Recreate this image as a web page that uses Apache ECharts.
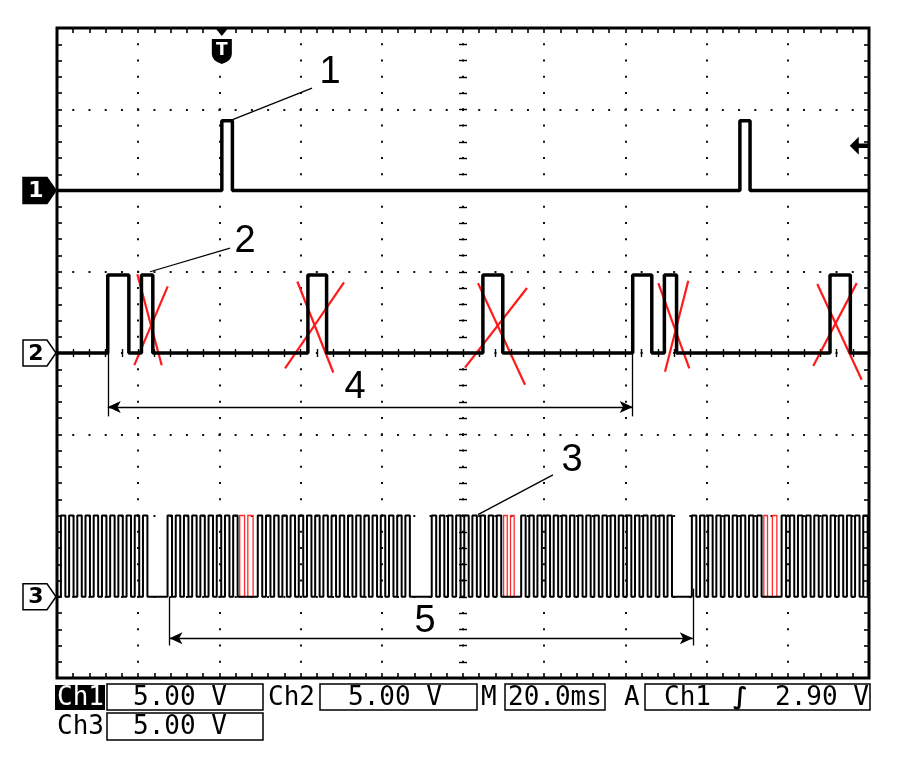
<!DOCTYPE html>
<html><head><meta charset="utf-8">
<script src="https://cdn.jsdelivr.net/npm/echarts@6/dist/echarts.min.js"></script>
<style>html,body{margin:0;padding:0;background:#fff}#c{width:912px;height:768px}</style>
</head><body><div id="c"></div>
<script>
// ---- time axis: 10 div x 20 ms ; vertical: 8 div ----
const X_MAX = 200, X_DIV = 20, Y_MAX = 8, Y_DIV = 1;

// Channel 1 (cam) : pulse [start, end] in ms, levels in div
const ch1Pulses = [[40.6, 43.2], [168.2, 170.7]];
const ch1Levels = [6.0, 6.86];

// Channel 2 : pulses
const ch2Pulses = [[12.5, 17.7], [20.8, 23.6], [61.8, 66.4], [104.9, 109.8], [141.8, 146.5], [149.6, 152.6], [190.4, 195.4]];
const ch2Levels = [4.0, 4.96];

// Channel 3 (toothed wheel) : tooth rising edges in ms
const ch3Rises = [
  0.96, 2.98, 5.00, 7.02, 9.04, 11.07, 13.09, 15.11, 17.13, 19.15, 21.17,
  27.23, 29.25, 31.27, 33.29, 35.31, 37.33, 39.35, 41.37, 43.39, 49.45, 51.47, 53.49, 55.51, 57.53,
  59.55, 61.57, 63.59, 65.61, 67.63, 69.65, 71.67, 73.69, 75.71, 77.73, 79.75, 81.77, 83.79, 85.81,
  92.30, 94.30, 96.31, 98.31, 100.31, 102.31, 104.32, 106.32, 108.32, 114.33, 116.33, 118.33, 120.34,
  122.34, 124.34, 126.34, 128.35, 130.35, 132.35, 134.35, 136.36, 138.36, 140.36, 142.36, 144.37, 146.37, 148.37, 150.37,
  156.37, 158.38, 160.39, 162.40, 164.41, 166.42, 168.43, 170.44, 172.45, 178.48, 180.49, 182.50, 184.51,
  186.52, 188.53, 190.54, 192.55, 194.56, 196.57, 198.58
];
const ch3HighTime = 1.1;
const ch3Levels = [1.0, 2.0];
// missing teeth outlined in red [start, end] ms
const ch3Missing = [[45.0, 46.2], [47.0, 48.3], [110.0, 110.9], [111.7, 112.6], [174.1, 175.0], [176.2, 177.3]];

// red crosses over channel 2 pulses: pairs of strokes [[x1,y1],[x2,y2]]
const crosses = [
  [[19.78, 4.97], [25.79, 3.85]], [[27.27, 4.82], [19.04, 3.85]],
  [[59.19, 4.88], [68.05, 3.76]], [[70.69, 4.87], [56.16, 3.81]],
  [[103.69, 4.86], [115.27, 3.61]], [[115.76, 4.80], [100.49, 3.82]],
  [[148.10, 4.86], [155.74, 3.81]], [[155.49, 4.89], [149.75, 3.77]],
  [[187.26, 4.85], [198.20, 3.67]], [[196.97, 4.86], [186.27, 3.84]]
];

// numbered callouts
const calloutNames = ['1', '2', '3', '4', '5'];
const calloutPos = [[67.24, 7.45], [46.30, 5.37], [126.84, 2.68], [73.40, 3.57], [90.64, 0.69]];
const leaders = [
  [[43.10, 6.87], [62.81, 7.26]],
  [[22.91, 5.00], [42.61, 5.29]],
  [[103.69, 2.01], [122.16, 2.50]]
];
// double-headed spans: [from, to, y]
const spans = [[12.5, 141.8, 3.335], [27.7, 156.6, 0.49]];
// span end markers: [x, yTop, yBottom]
const spanEnds = [[12.5, 4.0, 3.22], [141.8, 4.0, 3.22], [27.7, 1.0, 0.40], [156.6, 1.1, 0.40]];

// channel ground markers
const chMarkerNames = ['1', '2', '3'];
const chMarkerLevels = [6.0, 4.0, 1.0];
const trigTime = 40.6, trigLevel = 6.55;

// status bar texts
const status = {
  ch1: ['Ch1', '5.00 V'], ch2: ['Ch2', '5.00 V'], ch3: ['Ch3', '5.00 V'],
  time: ['M', '20.0ms'], trig: ['A', 'Ch1', '\u222B', '2.90 V']
};

function stepLine(pulses, lo, hi) {
  const pts = [[0, lo]];
  pulses.forEach(([a, b]) => { pts.push([a, lo], [a, hi], [b, hi], [b, lo]); });
  pts.push([X_MAX, lo]);
  return pts;
}
const ch3Pulses = ch3Rises.map(r => [r, r + ch3HighTime]);

const GL = 57, GT = 28, GW = 812, GH = 650;
const mono = 'DejaVu Sans Mono';
const gridDots = { color: '#111', width: 2, type: [2, GW / 50 - 2], dashOffset: 1 };
const gridDotsV = { color: '#111', width: 2, type: [2, GH / 40 - 2], dashOffset: 1 };

function edgeAxis(dim, pos, extra) {
  const isX = dim === 'x';
  return Object.assign({
    type: 'value', min: 0, max: isX ? X_MAX : Y_MAX, interval: isX ? X_DIV : Y_DIV,
    position: pos, axisLabel: { show: false },
    axisLine: { show: false, onZero: false },
    axisTick: { show: true, inside: true, length: 5, lineStyle: { color: '#000', width: 1.6 } },
    minorTick: { show: true, splitNumber: 5, length: 5, lineStyle: { color: '#000', width: 1.6 } },
    splitLine: { show: false }
  }, extra || {});
}
const cTick = inside => ({
  offsetTick: { show: true, inside: inside, length: 4, lineStyle: { color: '#000', width: 1.4 } },
  minor: { show: true, splitNumber: 5, length: 4, lineStyle: { color: '#000', width: 1.4 } }
});
function centerAxis(dim, inside) {
  const t = cTick(inside);
  return edgeAxis(dim, dim === 'x' ? 'bottom' : 'left', { offset: dim === 'x' ? -GH / 2 : -GW / 2, axisTick: t.offsetTick, minorTick: t.minor });
}

const xAxes = [
  edgeAxis('x', 'bottom', { splitLine: { show: true, lineStyle: gridDotsV } }),
  edgeAxis('x', 'top'),
  centerAxis('x', true), centerAxis('x', false)
];
const yAxes = [
  edgeAxis('y', 'left', { splitLine: { show: true, lineStyle: gridDots } }),
  edgeAxis('y', 'right'),
  centerAxis('y', true), centerAxis('y', false)
];

const shield = 'path://M0,0 L20,0 L20,15 Q20,22 10,25 Q0,22 0,15 Z';
const leftArrow = 'path://M0,9 L9,1 L9,7 L19,7 L19,11 L9,11 L9,17 Z';

const markPoints = [];
calloutNames.forEach((n, i) => markPoints.push({
  name: n, coord: calloutPos[i], symbol: 'rect', symbolSize: 1, itemStyle: { color: 'rgba(0,0,0,0)' },
  label: { show: true, position: 'inside', formatter: '{b}', fontSize: 38, color: '#000', fontFamily: 'Liberation Sans' }
}));
markPoints.push({
  name: 'T', coord: [trigTime, 7.71], symbol: shield, symbolSize: [20, 25], itemStyle: { color: '#000' },
  label: { show: true, position: 'inside', formatter: '{b}', offset: [0, -1], fontSize: 17, fontWeight: 'bold', color: '#fff', fontFamily: 'DejaVu Sans' }
});
markPoints.push({ name: '', coord: [trigTime, 7.95], symbol: 'triangle', symbolRotate: 180, symbolSize: [13, 8], itemStyle: { color: '#000' }, label: { show: false } });
markPoints.push({ name: '', coord: [197.6, trigLevel], symbol: leftArrow, symbolSize: [19, 18], itemStyle: { color: '#000' }, label: { show: false } });

const blackLines = [];
leaders.forEach(l => blackLines.push([{ coord: l[0], symbol: 'none' }, { coord: l[1], symbol: 'none' }]));
spans.forEach(s => blackLines.push([{ coord: [s[0], s[2]], symbol: 'arrow', symbolSize: [9, 13] }, { coord: [s[1], s[2]], symbol: 'arrow', symbolSize: [9, 13] }]));
spanEnds.forEach(e => blackLines.push([{ coord: [e[0], e[1]], symbol: 'none' }, { coord: [e[0], e[2]], symbol: 'none' }]));

function statusGraphics() {
  const T = (x, y, s, fill) => ({ type: 'text', x: x, y: y, z: 10, style: { text: s, fill: fill || '#000', font: '26px ' + mono, textVerticalAlign: 'middle' } });
  const B = (x, y, w, h) => ({ type: 'rect', z: 9, shape: { x: x, y: y, width: w, height: h }, style: { fill: '#fff', stroke: '#000', lineWidth: 1.5 } });
  return [
    { type: 'rect', z: 9, shape: { x: 55, y: 685, width: 50, height: 25 }, style: { fill: '#000' } },
    T(57, 698, status.ch1[0], '#fff'),
    B(107, 684, 156, 26), T(133, 698, status.ch1[1]),
    T(268, 698, status.ch2[0]),
    B(320, 684, 157, 26), T(348, 698, status.ch2[1]),
    T(481, 698, status.time[0]),
    B(505, 684, 100, 26), T(508, 698, status.time[1]),
    T(624, 698, status.trig[0]),
    B(645, 684, 225, 26), T(664, 698, status.trig[1]),
    { type: 'text', x: 733, y: 698, z: 10, style: { text: status.trig[2], fill: '#000', font: 'italic bold 24px DejaVu Sans', textVerticalAlign: 'middle' } },
    T(775, 698, status.trig[3]),
    T(57, 727, status.ch3[0]),
    B(107, 713, 156, 27), T(133, 727, status.ch3[1])
  ];
}

const chart = echarts.init(document.getElementById('c'), null, { renderer: 'canvas' });
chart.setOption({
  animation: false,
  backgroundColor: '#fff',
  grid: { left: GL, top: GT, width: GW, height: GH, show: true, borderColor: '#000', borderWidth: 3, backgroundColor: '#fff', containLabel: false },
  xAxis: xAxes,
  yAxis: yAxes,
  series: [
    {
      name: 'Ch1', type: 'line', data: stepLine(ch1Pulses, ch1Levels[0], ch1Levels[1]), showSymbol: false, silent: true,
      lineStyle: { color: '#000', width: 3.5 }, z: 5,
      markLine: { silent: true, animation: false, label: { show: false }, lineStyle: { color: '#000', width: 1.3, type: 'solid' }, data: blackLines },
      markPoint: { silent: true, animation: false, data: markPoints }
    },
    {
      name: 'Ch2', type: 'line', data: stepLine(ch2Pulses, ch2Levels[0], ch2Levels[1]), showSymbol: false, silent: true,
      lineStyle: { color: '#000', width: 3.5 }, z: 5,
      markLine: { silent: true, animation: false, symbol: ['none', 'none'], label: { show: false }, lineStyle: { color: '#ff1a1a', width: 2.2, type: 'solid' }, data: crosses.map(c => [{ coord: c[0] }, { coord: c[1] }]) }
    },
    {
      name: 'Ch3', type: 'line', data: stepLine(ch3Pulses, ch3Levels[0], ch3Levels[1]), showSymbol: false, silent: true,
      lineStyle: { color: '#000', width: 2 }, z: 5,
      markArea: { silent: true, animation: false, itemStyle: { color: 'rgba(0,0,0,0)', borderColor: '#ff2a2a', borderWidth: 1.3 }, label: { show: false }, data: ch3Missing.map(m => [{ coord: [m[0], ch3Levels[0]] }, { coord: [m[1], ch3Levels[1]] }]) }
    }
  ],
  graphic: statusGraphics()
});

// channel ground markers, placed at each channel's level through the chart's own scale
const markerGraphics = chMarkerNames.map((n, i) => {
  const p = chart.convertToPixel({ xAxisIndex: 0, yAxisIndex: 0 }, [0, chMarkerLevels[i]]);
  const tipX = p[0] - 1, y = p[1];
  const filled = i === 0;
  return {
    type: 'group', z: 20, children: [
      { type: 'polygon', shape: { points: [[tipX - 33, y - 13], [tipX - 9, y - 13], [tipX, y], [tipX - 9, y + 13], [tipX - 33, y + 13]] },
        style: { fill: filled ? '#000' : '#fff', stroke: '#000', lineWidth: 1.5 } },
      { type: 'text', x: tipX - 20, y: y + 1, style: { text: n, fill: filled ? '#fff' : '#000', font: 'bold 22px DejaVu Sans', textAlign: 'center', textVerticalAlign: 'middle' } }
    ]
  };
});
chart.setOption({ graphic: statusGraphics().concat(markerGraphics) });
</script>
</body></html>
